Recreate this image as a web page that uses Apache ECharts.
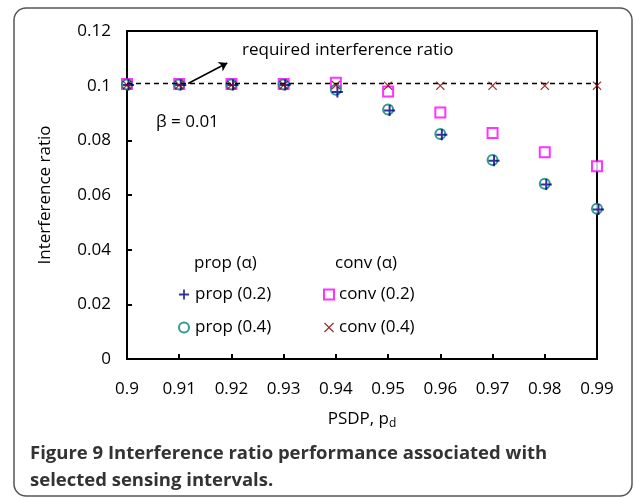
<!DOCTYPE html>
<html><head><meta charset="utf-8">
<script src="https://cdn.jsdelivr.net/npm/echarts@6/dist/echarts.min.js"></script>
<style>html,body{margin:0;padding:0;background:#fff}#c{width:635px;height:499px}</style>
</head><body><div id="c"></div>
<script>
const pd = [0.9, 0.91, 0.92, 0.93, 0.94, 0.95, 0.96, 0.97, 0.98, 0.99];
const prop02 = [0.1004, 0.1004, 0.1004, 0.1004, 0.0979, 0.0911, 0.0822, 0.0727, 0.0640, 0.0549];
const prop04 = [0.1004, 0.1004, 0.1004, 0.1004, 0.0985, 0.0913, 0.0823, 0.0728, 0.0641, 0.0550];
const conv02 = [0.1006, 0.1006, 0.1006, 0.1006, 0.1011, 0.0979, 0.0902, 0.0827, 0.0756, 0.0705];
const conv04 = [0.1002, 0.1002, 0.1002, 0.1002, 0.1002, 0.1000, 0.1000, 0.1000, 0.1000, 0.1000];
const yTicks = [0, 0.02, 0.04, 0.06, 0.08, 0.1, 0.12];
const requiredRatio = 0.101;
const names = ['prop (0.2)', 'prop (0.4)', 'conv (0.2)', 'conv (0.4)'];

const FONT = '"Open Sans", sans-serif';
const FS = 17;
const plusPath = 'path://M4.1,0H5.9V4.1H10V5.9H5.9V10H4.1V5.9H0V4.1H4.1Z';
const xPath = 'path://M0,0.9L0.9,0L5,4.1L9.1,0L10,0.9L5.9,5L10,9.1L9.1,10L5,5.9L0.9,10L0,9.1L4.1,5Z';
const pts = arr => pd.map((x, i) => [x, arr[i]]);

const chart = echarts.init(document.getElementById('c'), null, {renderer: 'canvas'});
chart.setOption({
  animation: false,
  textStyle: {fontFamily: FONT},
  grid: {left: 127, right: 38, top: 31, bottom: 140, show: true, borderColor: '#000', borderWidth: 2, backgroundColor: 'transparent'},
  xAxis: {
    type: 'value', min: 0.9, max: 0.99, interval: 0.01,
    name: '{a|PSDP, p}{b|d}', nameLocation: 'middle', nameGap: 50,
    nameTextStyle: {rich: {a: {fontSize: FS, color: '#000', fontFamily: FONT}, b: {fontSize: 12, color: '#000', fontFamily: FONT, verticalAlign: 'bottom', padding: [9, 0, 0, 0]}}},
    axisLine: {lineStyle: {color: '#000', width: 2}},
    axisTick: {inside: true, length: 5, lineStyle: {color: '#000', width: 2}},
    axisLabel: {fontSize: FS, color: '#000', margin: 22, fontFamily: FONT,
      formatter: v => { const r = Math.round(v * 100) / 100; return String(r); }},
    splitLine: {show: false}
  },
  yAxis: {
    type: 'value', min: 0, max: 0.12, interval: 0.02,
    name: 'Interference ratio', nameLocation: 'middle', nameGap: 73,
    nameTextStyle: {fontSize: FS, color: '#000', fontFamily: FONT},
    axisLine: {lineStyle: {color: '#000', width: 2}},
    axisTick: {inside: true, length: 5, lineStyle: {color: '#000', width: 2}},
    axisLabel: {fontSize: FS, color: '#000', margin: 16, fontFamily: FONT,
      formatter: v => { const r = Math.round(v * 100) / 100; return yTicks.includes(r) ? String(r) : ''; }},
    splitLine: {show: false}
  },
  legend: [
    {orient: 'vertical', left: 178, top: 286, padding: 0, itemWidth: 10, itemHeight: 10, itemGap: 16, itemStyle: {borderWidth: 1.3},
     textStyle: {fontSize: FS, color: '#000', fontFamily: FONT, padding: [0, 0, 0, 1]},
     data: [{name: names[0], icon: plusPath}, {name: names[1], icon: 'emptyCircle'}]},
    {orient: 'vertical', left: 323, top: 286, padding: 0, itemWidth: 10, itemHeight: 10, itemGap: 16, itemStyle: {borderWidth: 1.3},
     textStyle: {fontSize: FS, color: '#000', fontFamily: FONT, padding: [0, 0, 0, 0]},
     data: [{name: names[2], icon: 'emptyRect'}, {name: names[3], icon: xPath}]}
  ],
  graphic: [
    {type: 'rect', shape: {x: 14, y: 8, width: 618, height: 488, r: 12}, style: {fill: 'none', stroke: '#555', lineWidth: 1.5}, silent: true},
    {type: 'text', left: 242, top: 42, style: {text: 'required interference ratio', fontSize: FS, fill: '#000', fontFamily: FONT}},
    {type: 'text', left: 156, top: 114, style: {text: 'β = 0.01', fontSize: FS, fill: '#000', fontFamily: FONT}},
    {type: 'text', left: 194, top: 255, style: {text: 'prop (α)', fontSize: FS, fill: '#000', fontFamily: FONT}},
    {type: 'text', left: 335, top: 255, style: {text: 'conv (α)', fontSize: FS, fill: '#000', fontFamily: FONT}},
    {type: 'text', left: 30, top: 440, style: {text: 'Figure 9 Interference ratio performance associated with\nselected sensing intervals.', fontSize: 18.5, fontWeight: 'bold', lineHeight: 27, fill: '#333', fontFamily: FONT}}
  ],
  series: [
    {name: names[2], type: 'scatter', data: pts(conv02), symbol: 'emptyRect', symbolSize: 10, z: 2,
     itemStyle: {color: '#ff00ff', borderColor: '#ff00ff', borderWidth: 1.5},
     markLine: {silent: true, symbol: ['none', 'none'], label: {show: false},
       lineStyle: {color: '#000', type: [5, 4], width: 1.3},
       data: [[{coord: [0.9, requiredRatio]}, {coord: [0.99, requiredRatio]}]]}},
    {name: names[1], type: 'scatter', data: pts(prop04), symbol: 'emptyCircle', symbolSize: 10, z: 3,
     itemStyle: {color: '#008080', borderColor: '#008080', borderWidth: 1.3}},
    {name: names[0], type: 'scatter', data: pts(prop02), symbol: plusPath, symbolSize: 11, symbolOffset: [1.5, 0.5], z: 4,
     itemStyle: {color: '#000080'}},
    {name: names[3], type: 'scatter', data: pts(conv04), symbol: xPath, symbolSize: 9, z: 5,
     itemStyle: {color: '#800000'},
     markLine: {silent: true, symbol: ['none', 'arrow'], symbolSize: 8, label: {show: false},
       lineStyle: {color: '#000', type: 'solid', width: 1.5},
       data: [[{coord: [0.9117, 0.1008]}, {coord: [0.9192, 0.1083]}]]}}
  ]
});
</script></body></html>
